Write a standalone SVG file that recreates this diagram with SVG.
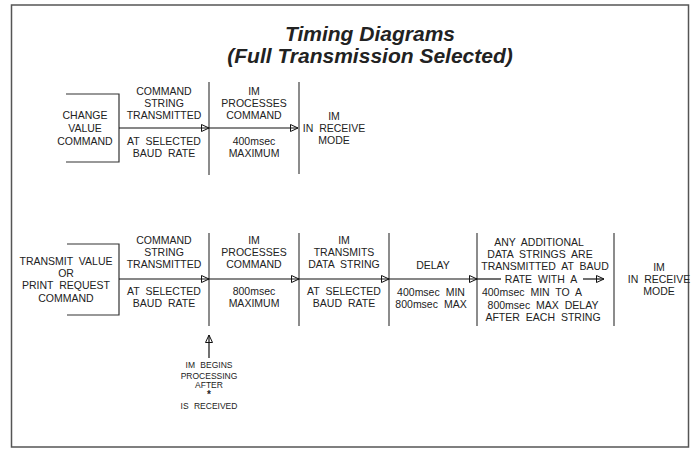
<svg xmlns="http://www.w3.org/2000/svg" width="692" height="449" viewBox="0 0 692 449">
<style>
.t{font-family:"Liberation Sans",Arial,sans-serif;font-size:10.5px;fill:#222;text-anchor:middle;word-spacing:3px}
.s{font-family:"Liberation Sans",Arial,sans-serif;font-size:8.5px;fill:#222;text-anchor:middle;word-spacing:3px}
.title{font-family:"Liberation Sans",Arial,sans-serif;font-size:21px;font-weight:bold;font-style:italic;fill:#222;text-anchor:middle}
.div{stroke:#666;stroke-width:1.5;fill:none}
.br{stroke:#333;stroke-width:1.2;fill:none}
.c{stroke:#111;stroke-width:1.2;fill:none}
.ca{stroke:#111;stroke-width:1.2;fill:none;marker-end:url(#oa)}
</style>
<defs>
<marker id="oa" markerUnits="userSpaceOnUse" markerWidth="10" markerHeight="9" refX="8.5" refY="4" orient="auto">
<path d="M1,0.5 L8.5,4 L1,7.5 Z" fill="none" stroke="#111" stroke-width="1"/>
</marker>
</defs>
<rect x="11.5" y="5" width="677" height="442" fill="#fff" stroke="#555" stroke-width="1.5"/>
<g id="title">
<text class="title" x="370" y="41">Timing Diagrams</text>
<text class="title" x="370" y="63">(Full Transmission Selected)</text>
</g>
<!-- Top diagram -->
<g id="top-change-value">
<path class="br" d="M66,94 H119 V162 H66"/>
<text class="t" x="85" y="119">CHANGE</text>
<text class="t" x="85" y="132">VALUE</text>
<text class="t" x="85" y="145">COMMAND</text>
</g>
<g id="top-cmd-string">
<text class="t" x="164" y="95">COMMAND</text>
<text class="t" x="164" y="107">STRING</text>
<text class="t" x="164" y="119">TRANSMITTED</text>
<text class="t" x="164" y="145">AT SELECTED</text>
<text class="t" x="164" y="157">BAUD RATE</text>
</g>
<g id="top-im-processes">
<line class="div" x1="209" y1="82" x2="209" y2="175"/>
<text class="t" x="254" y="95">IM</text>
<text class="t" x="254" y="107">PROCESSES</text>
<text class="t" x="254" y="119">COMMAND</text>
<text class="t" x="254" y="145">400msec</text>
<text class="t" x="254" y="157">MAXIMUM</text>
</g>
<g id="top-im-receive">
<line class="div" x1="299" y1="82" x2="299" y2="174"/>
<text class="t" x="334" y="120">IM</text>
<text class="t" x="334" y="132">IN RECEIVE</text>
<text class="t" x="334" y="144">MODE</text>
</g>
<!-- Bottom diagram -->
<g id="bot-transmit-value">
<path class="br" d="M67,244 H119 V315 H67"/>
<text class="t" x="66" y="265">TRANSMIT VALUE</text>
<text class="t" x="66" y="277">OR</text>
<text class="t" x="66" y="289">PRINT REQUEST</text>
<text class="t" x="66" y="302">COMMAND</text>
</g>
<g id="bot-cmd-string">
<text class="t" x="164" y="244">COMMAND</text>
<text class="t" x="164" y="256">STRING</text>
<text class="t" x="164" y="268">TRANSMITTED</text>
<text class="t" x="164" y="295">AT SELECTED</text>
<text class="t" x="164" y="307">BAUD RATE</text>
</g>
<g id="bot-im-processes">
<line class="div" x1="209" y1="233" x2="209" y2="326"/>
<text class="t" x="254" y="244">IM</text>
<text class="t" x="254" y="256">PROCESSES</text>
<text class="t" x="254" y="268">COMMAND</text>
<text class="t" x="254" y="295">800msec</text>
<text class="t" x="254" y="307">MAXIMUM</text>
</g>
<g id="bot-im-transmits">
<line class="div" x1="299" y1="233" x2="299" y2="326"/>
<text class="t" x="344" y="244">IM</text>
<text class="t" x="344" y="256">TRANSMITS</text>
<text class="t" x="344" y="268">DATA STRING</text>
<text class="t" x="344" y="295">AT SELECTED</text>
<text class="t" x="344" y="307">BAUD RATE</text>
</g>
<g id="bot-delay">
<line class="div" x1="389" y1="233" x2="389" y2="326"/>
<text class="t" x="433" y="269">DELAY</text>
<text class="t" x="431" y="296">400msec MIN</text>
<text class="t" x="431" y="308">800msec MAX</text>
</g>
<g id="bot-additional">
<line class="div" x1="477" y1="233" x2="477" y2="326"/>
<text class="t" x="539" y="246">ANY ADDITIONAL</text>
<text class="t" x="540" y="258">DATA STRINGS ARE</text>
<text class="t" x="545" y="270">TRANSMITTED AT BAUD</text>
<text class="t" x="541" y="283">RATE WITH A</text>
<text class="t" x="532" y="296">400msec MIN TO A</text>
<text class="t" x="543" y="309">800msec MAX DELAY</text>
<text class="t" x="543" y="321">AFTER EACH STRING</text>
</g>
<g id="bot-im-receive">
<line class="div" x1="614" y1="233" x2="614" y2="326"/>
<text class="t" x="659" y="271">IM</text>
<text class="t" x="659" y="283">IN RECEIVE</text>
<text class="t" x="659" y="295">MODE</text>
</g>
<g id="note">
<text class="s" x="209" y="368">IM BEGINS</text>
<text class="s" x="209" y="379">PROCESSING</text>
<text class="s" x="209" y="388">AFTER</text>
<text class="s" x="209" y="398" style="font-size:10px;font-weight:bold">*</text>
<text class="s" x="209" y="409">IS RECEIVED</text>
</g>
<g id="connectors">
<line class="ca" x1="119" y1="128" x2="209" y2="128"/>
<line class="ca" x1="209" y1="128" x2="298" y2="128"/>
<line class="ca" x1="119" y1="279" x2="209" y2="279"/>
<line class="ca" x1="209" y1="279" x2="299" y2="279"/>
<line class="ca" x1="299" y1="279" x2="389" y2="279"/>
<line class="ca" x1="389" y1="279" x2="477" y2="279"/>
<line class="c" x1="477" y1="279" x2="501" y2="279"/>
<line class="ca" x1="583" y1="279" x2="604" y2="279"/>
<line class="ca" x1="209" y1="358" x2="209" y2="335"/>
</g>
</svg>
